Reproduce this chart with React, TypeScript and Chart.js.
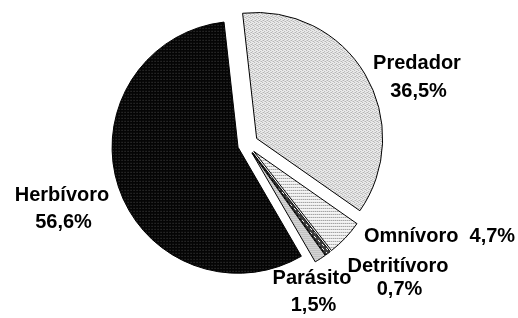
import React, { useEffect, useRef } from "react";
import { Chart, registerables } from "chart.js";

Chart.register(...registerables);

// ---- data ----
const categories = ["Predador", "Omnívoro", "Detritívoro", "Parásito", "Herbívoro"];
const percentages = [36.5, 4.7, 0.7, 1.5, 56.6];

// ---- style / layout (not data) ----
const explodeDistances = [11.8, 10, 10, 10, 8.9];
// label anchors relative to pie centre: dx, dy (first baseline), align, line gap, single-line flag
const labelLayout = [
  { dx: 170.5, dy: -75.3, align: "center", gap: 28, single: false },
  { dx: 117.5, dy: 97.7, align: "left", gap: 0, single: true },
  { dx: 151.5, dy: 127.7, align: "center", gap: 23, single: false },
  { dx: 65.5, dy: 139.7, align: "center", gap: 27, single: false },
  { dx: -184.5, dy: 56.7, align: "center", gap: 27, single: false },
];

function fmtPct(v: number) {
  return v.toFixed(1).replace(".", ",") + "%";
}

function makePattern(w: number, h: number, paint: (c: CanvasRenderingContext2D) => void) {
  const cv = document.createElement("canvas");
  cv.width = w;
  cv.height = h;
  const c = cv.getContext("2d")!;
  paint(c);
  const ctx = document.createElement("canvas").getContext("2d")!;
  return ctx.createPattern(cv, "repeat")!;
}

function buildPatterns() {
  const px = (c: CanvasRenderingContext2D, x: number, y: number, col: string) => {
    c.fillStyle = col;
    c.fillRect(x, y, 1, 1);
  };
  // Predador: light grey fine dither
  const predador = makePattern(4, 4, (c) => {
    c.fillStyle = "#ececec";
    c.fillRect(0, 0, 4, 4);
    px(c, 0, 0, "#b0b0b0");
    px(c, 2, 1, "#b0b0b0");
    px(c, 1, 2, "#b0b0b0");
    px(c, 3, 3, "#b0b0b0");
    px(c, 2, 3, "#cccccc");
    px(c, 0, 2, "#cccccc");
  });
  // Omnívoro: white with dotted rows
  const omnivoro = makePattern(2, 3, (c) => {
    c.fillStyle = "#f4f4f4";
    c.fillRect(0, 0, 2, 3);
    px(c, 0, 0, "#7a7a7a");
  });
  // Detritívoro: dark grey with white diagonal dashes
  const detritivoro = makePattern(4, 4, (c) => {
    c.fillStyle = "#3c3c3c";
    c.fillRect(0, 0, 4, 4);
    px(c, 0, 0, "#ffffff");
    px(c, 1, 1, "#ffffff");
  });
  // Parásito: light grey horizontal lines
  const parasito = makePattern(1, 2, (c) => {
    c.fillStyle = "#f8f8f8";
    c.fillRect(0, 0, 1, 2);
    px(c, 0, 0, "#a0a0a0");
  });
  // Herbívoro: black with sparse grey dots
  const herbivoro = makePattern(3, 3, (c) => {
    c.fillStyle = "#050505";
    c.fillRect(0, 0, 3, 3);
    px(c, 1, 1, "#4a4a4a");
  });
  return [predador, omnivoro, detritivoro, parasito, herbivoro];
}

const explodePlugin = {
  id: "explodeSlices",
  beforeDatasetsDraw(chart: any) {
    const meta = chart.getDatasetMeta(0);
    meta.data.forEach((arc: any, i: number) => {
      if (arc.__exploded) return;
      const base = arc.draw;
      arc.draw = function (ctx: CanvasRenderingContext2D) {
        const mid = (this.startAngle + this.endAngle) / 2;
        const d = explodeDistances[i] || 0;
        ctx.save();
        ctx.translate(Math.cos(mid) * d, Math.sin(mid) * d);
        base.call(this, ctx);
        ctx.restore();
      };
      arc.__exploded = true;
    });
  },
};

const labelPlugin = {
  id: "sliceLabels",
  afterDatasetsDraw(chart: any) {
    const meta = chart.getDatasetMeta(0);
    const first = meta.data[0];
    if (!first) return;
    const cx = first.x;
    const cy = first.y;
    const ctx: CanvasRenderingContext2D = chart.ctx;
    ctx.save();
    ctx.font = 'bold 20px "Liberation Sans", Arial, sans-serif';
    ctx.fillStyle = "#000";
    ctx.textBaseline = "alphabetic";
    categories.forEach((cat, i) => {
      const lay = labelLayout[i];
      ctx.textAlign = lay.align as CanvasTextAlign;
      const x = cx + lay.dx;
      const y = cy + lay.dy;
      if (lay.single) {
        ctx.fillText(cat + "  " + fmtPct(percentages[i]), x, y);
      } else {
        ctx.fillText(cat, x, y);
        ctx.fillText(fmtPct(percentages[i]), x + 1.5, y + lay.gap);
      }
    });
    ctx.restore();
  },
};

export default function App() {
  const ref = useRef<HTMLCanvasElement | null>(null);
  useEffect(() => {
    if (!ref.current) return;
    const chart = new Chart(ref.current, {
      type: "pie",
      data: {
        labels: categories,
        datasets: [
          {
            data: percentages,
            backgroundColor: buildPatterns() as any,
            borderColor: "#000",
            borderWidth: 1,
            borderJoinStyle: "miter",
          } as any,
        ],
      },
      options: {
        animation: false,
        responsive: false,
        rotation: -6.4,
        radius: 126,
        events: [],
        layout: { padding: { left: 0, right: 25, top: 0, bottom: 29 } },
        plugins: {
          legend: { display: false },
          tooltip: { enabled: false },
        },
      } as any,
      plugins: [explodePlugin, labelPlugin],
    });
    return () => chart.destroy();
  }, []);
  return (
    <div style={{ position: "fixed", left: 0, top: 0, width: 518, height: 318, background: "#fff" }}>
      <canvas ref={ref} width={518} height={318} style={{ width: 518, height: 318, display: "block" }} />
    </div>
  );
}
